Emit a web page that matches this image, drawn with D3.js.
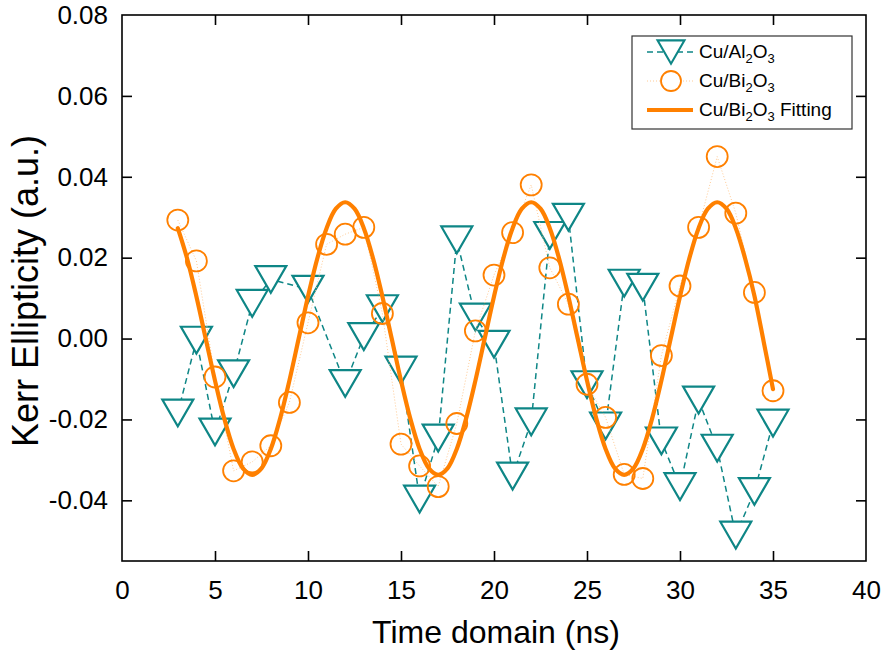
<!DOCTYPE html>
<html>
<head>
<meta charset="utf-8">
<script src="https://cdn.jsdelivr.net/npm/d3@7"></script>
<style>
html,body{margin:0;padding:0;background:#fff;}
svg{display:block;font-family:"Liberation Sans",Arial,sans-serif;}
</style>
</head>
<body>
<svg id="chart" width="883" height="656"></svg>
<script>
// ---- data ----
const xTicks = [0, 5, 10, 15, 20, 25, 30, 35, 40];
const yTicks = [-0.04, -0.02, 0.00, 0.02, 0.04, 0.06, 0.08];
const xTitle = "Time domain (ns)";
const yTitle = "Kerr Ellipticity (a.u.)";

const alTime = [3,4,5,6,7,8,10,12,13,14,15,16,17,18,19,20,21,22,23,24,25,26,27,28,29,30,31,32,33,34,35];
const alKerr = [-0.0184,-0.0004,-0.0231,-0.0087,0.0087,0.0146,0.0122,-0.0111,0.0005,0.0074,-0.0078,-0.0397,-0.0246,0.0244,0.0053,-0.0014,-0.0340,-0.0206,0.0255,0.0300,-0.0114,-0.0216,0.0137,0.0127,-0.0253,-0.0366,-0.0152,-0.0271,-0.0486,-0.0378,-0.0209];

const biTime = [3,4,5,6,7,8,9,10,11,12,13,14,15,16,17,18,19,20,21,22,23,24,25,26,27,28,29,30,31,32,33,34,35];
const biKerr = [0.0293,0.0192,-0.0095,-0.0327,-0.0305,-0.0265,-0.0158,0.0039,0.0233,0.0258,0.0275,0.0062,-0.0261,-0.0315,-0.0366,-0.0210,0.0019,0.0157,0.0262,0.0380,0.0175,0.0085,-0.0113,-0.0195,-0.0336,-0.0346,-0.0042,0.0130,0.0275,0.0450,0.0310,0.0114,-0.0129];

const fitTime = [3,3.5,4,4.5,5,5.5,6,6.5,7,7.5,8,8.5,9,9.5,10,10.5,11,11.5,12,12.5,13,13.5,14,14.5,15,15.5,16,16.5,17,17.5,18,18.5,19,19.5,20,20.5,21,21.5,22,22.5,23,23.5,24,24.5,25,25.5,26,26.5,27,27.5,28,28.5,29,29.5,30,30.5,31,31.5,32,32.5,33,33.5,34,34.5,35];
const fitKerr = [0.0273,0.0198,0.0104,0.0000,-0.0104,-0.0198,-0.0273,-0.0321,-0.0337,-0.0321,-0.0273,-0.0198,-0.0104,0.0000,0.0104,0.0198,0.0273,0.0321,0.0337,0.0321,
                 0.0273,0.0198,0.0104,0.0000,-0.0104,-0.0198,-0.0273,-0.0321,-0.0337,-0.0321,-0.0273,-0.0198,-0.0104,0.0000,0.0104,0.0198,0.0273,0.0321,0.0337,0.0321,
                 0.0273,0.0198,0.0104,0.0000,-0.0104,-0.0198,-0.0273,-0.0321,-0.0337,-0.0321,-0.0273,-0.0198,-0.0104,0.0000,0.0104,0.0198,0.0273,0.0321,0.0337,0.0321,
                 0.0273,0.0198,0.0106,-0.0008,-0.0125];

const seriesNames = [["Cu/Al", "2", "O", "3", ""], ["Cu/Bi", "2", "O", "3", ""], ["Cu/Bi", "2", "O", "3", " Fitting"]];

// ---- layout ----
const teal = "#0E8686";
const orange = "#FF8000";
const m = {left:122, top:15, right:866, bottom:561};
const svg = d3.select("#chart");

const x = d3.scaleLinear().domain([0, 40]).range([m.left, m.right]);
const y = d3.scaleLinear().domain([-0.055, 0.08]).range([m.bottom, m.top]);

const tickLen = 10;
const fmtY = d => d3.format(".2f")(d).replace("−","-");

// axes
const axB = svg.append("g").attr("transform", `translate(0,${m.bottom})`)
  .call(d3.axisBottom(x).tickValues(xTicks).tickSize(-tickLen).tickPadding(20).tickFormat(d3.format("d")));
const axT = svg.append("g").attr("transform", `translate(0,${m.top})`)
  .call(d3.axisTop(x).tickValues(xTicks).tickSize(-tickLen).tickFormat(""));
const axL = svg.append("g").attr("transform", `translate(${m.left},0)`)
  .call(d3.axisLeft(y).tickValues(yTicks).tickSize(-tickLen).tickPadding(14).tickFormat(fmtY));
const axR = svg.append("g").attr("transform", `translate(${m.right},0)`)
  .call(d3.axisRight(y).tickValues(yTicks).tickSize(-tickLen).tickFormat(""));

[axB, axT, axL, axR].forEach(a => {
  a.select(".domain").remove();
  a.selectAll(".tick line").attr("stroke", "#000").attr("stroke-width", 1.6);
  a.selectAll(".tick text").attr("fill", "#000").attr("font-size", 26)
    .attr("font-family", "'Liberation Sans', Arial, sans-serif");
});
axL.selectAll(".tick").filter(d => d === 0.08).select("line").remove();
axR.selectAll(".tick").filter(d => d === 0.08).select("line").remove();
axB.selectAll(".tick").filter(d => d === 0 || d === 40).select("line").remove();
axT.selectAll(".tick").filter(d => d === 0 || d === 40).select("line").remove();

svg.append("rect").attr("x", m.left).attr("y", m.top)
  .attr("width", m.right - m.left).attr("height", m.bottom - m.top)
  .attr("fill", "none").attr("stroke", "#000").attr("stroke-width", 1.6);

// titles
svg.append("text").attr("x", 496).attr("y", 643)
  .attr("text-anchor", "middle").attr("font-size", 32).text(xTitle);
svg.append("text").attr("transform", `translate(38,291) rotate(-90)`)
  .attr("text-anchor", "middle").attr("font-size", 36).text(yTitle);

// ---- series ----
const plot = svg.append("g");
const triPath = "M-15.5,-13.4L15.5,-13.4L0,13.4Z";

const alPts = alTime.map((t, i) => [t, alKerr[i]]);
const biPts = biTime.map((t, i) => [t, biKerr[i]]);
const fitPts = fitTime.map((t, i) => [t, fitKerr[i]]);

const line = d3.line().x(d => x(d[0])).y(d => y(d[1]));

plot.append("path").datum(alPts).attr("d", line)
  .attr("fill", "none").attr("stroke", teal).attr("stroke-width", 1.5).attr("stroke-dasharray", "6,4");
plot.selectAll(".tri").data(alPts).enter().append("path").attr("class", "tri")
  .attr("transform", d => `translate(${x(d[0])},${y(d[1])})`)
  .attr("d", triPath).attr("fill", "#fff").attr("stroke", teal).attr("stroke-width", 2.2)
  .attr("stroke-linejoin", "miter");

plot.append("path").datum(biPts).attr("d", line)
  .attr("fill", "none").attr("stroke", "#FFC488").attr("stroke-width", 0.9).attr("stroke-dasharray", "1,2");
plot.selectAll(".cir").data(biPts).enter().append("circle").attr("class", "cir")
  .attr("cx", d => x(d[0])).attr("cy", d => y(d[1])).attr("r", 10.5)
  .attr("fill", "none").attr("stroke", orange).attr("stroke-width", 1.8);

plot.append("path").datum(fitPts)
  .attr("d", d3.line().x(d => x(d[0])).y(d => y(d[1])).curve(d3.curveCatmullRom))
  .attr("fill", "none").attr("stroke", orange).attr("stroke-width", 4.2).attr("stroke-linecap", "round");

// ---- legend ----
const lg = svg.append("g");
lg.append("rect").attr("x", 632).attr("y", 36).attr("width", 220).attr("height", 93)
  .attr("fill", "#fff").attr("stroke", "#333").attr("stroke-width", 1.2);
const rowsY = [52, 81, 110];
lg.append("line").attr("x1", 647).attr("x2", 693).attr("y1", rowsY[0]).attr("y2", rowsY[0])
  .attr("stroke", teal).attr("stroke-width", 1.5).attr("stroke-dasharray", "6,4");
lg.append("path").attr("transform", `translate(671,${rowsY[0]}) scale(0.87)`).attr("d", triPath)
  .attr("fill", "#fff").attr("stroke", teal).attr("stroke-width", 2.4);
lg.append("line").attr("x1", 647).attr("x2", 693).attr("y1", rowsY[1]).attr("y2", rowsY[1])
  .attr("stroke", "#FFC488").attr("stroke-width", 0.9).attr("stroke-dasharray", "1,2");
lg.append("circle").attr("cx", 671).attr("cy", rowsY[1]).attr("r", 10).attr("fill", "#fff")
  .attr("stroke", orange).attr("stroke-width", 1.8);
lg.append("line").attr("x1", 647).attr("x2", 693).attr("y1", rowsY[2]).attr("y2", rowsY[2])
  .attr("stroke", orange).attr("stroke-width", 4.2);

seriesNames.forEach((parts, i) => {
  const t = lg.append("text").attr("x", 699).attr("y", rowsY[i] + 6).attr("font-size", 19).attr("fill", "#000");
  t.append("tspan").text(parts[0]);
  t.append("tspan").attr("font-size", 13).attr("dy", 5).text(parts[1]);
  t.append("tspan").attr("dy", -5).text(parts[2]);
  t.append("tspan").attr("font-size", 13).attr("dy", 5).text(parts[3]);
  if (parts[4]) t.append("tspan").attr("dy", -5).text(parts[4]);
});
</script>
</body>
</html>
